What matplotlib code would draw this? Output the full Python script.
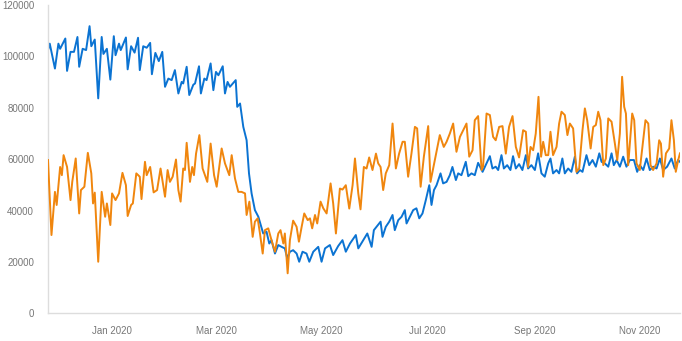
import numpy as np
import matplotlib
matplotlib.use("Agg")
import matplotlib.pyplot as plt

start_date = np.datetime64("2019-11-25T00")

blue_days = [0, 1, 4, 6, 7, 10, 11, 13, 15, 17, 18, 20, 22, 24, 25, 27, 29, 31, 32, 34, 36, 38, 39, 41, 42, 45, 46, 48, 50, 52, 53, 55, 57, 59, 60, 62, 64,
             66, 67.6, 69.5, 71.4, 73.3, 75.3, 77.2, 78.1, 80.1, 81.6, 83.9, 84.9, 87.2, 88.3, 90.3, 91.6, 93.9, 95.5, 97, 98.4, 100.9, 102.2, 103.7, 105.1, 108.4, 109.3, 110.9, 112.8, 114.7, 116.1, 117.6, 119.5, 121.5,
             124.3, 126.2, 127.8, 129.1, 131.1, 133, 134.9, 136.8, 138.2, 139.7, 141.6, 143.6, 145.1, 147, 149.3, 150.9, 153.2, 156.1, 158, 160, 162.8, 164.7, 167.6, 170.1, 172, 174.4, 177.8, 179.2, 182.1, 184.4,
             186.9, 188.2, 189.7, 192.1, 193.2, 195.1, 197.1, 199, 200.3, 202.3, 204.2, 206.1, 207.1, 209, 210.9, 212.8, 214.4, 216.3, 218.2, 220.2, 221.5, 222.9, 224.4, 226.7, 228.2, 230.2, 232.1, 233.6, 235.6, 236.9, 238.8, 241.3, 242.7, 244.6, 246.5, 248.4,
             251, 253.3, 255.2, 256.7, 258.6, 260, 261.9, 263.3, 265.2, 267.1, 268.6, 270.2, 272.1, 274, 276, 277.3, 279.2, 281.2, 283.1, 285, 286.9, 288.9, 290.2, 291.7, 293.7, 295.2, 297.1, 298.5, 300.4, 302.3, 304.3, 305.6,
             307.2, 308.7, 311, 312.6, 314.5, 316.4, 318.4, 319.7, 321.6, 323.6, 325.5, 326.8, 328.4, 330.3, 332.2, 334.1, 336.1, 338.4, 340.3, 341.8, 343.8, 345.7, 347.6, 349.5, 351.5, 353.4, 355.3, 357.6, 360.1, 362, 363.9, 365]

blue_values = [102500, 105000, 95300, 105000, 103000, 107000, 94400, 101800, 101800, 107600, 96000, 103000, 102500, 111800, 104000, 106600, 83700, 107600, 101000, 103000, 91000, 107900, 100500, 105000, 102500, 107400, 95000, 104000, 101500, 107300, 94700, 104000, 103400, 105300, 93100, 101400, 98200,
               101800, 88200, 91400, 90800, 94700, 85600, 90100, 89500, 96000, 85000, 89000, 89500, 96200, 85600, 91400, 90800, 97300, 86900, 94000, 92700, 96200, 85600, 90100, 88200, 90800, 80400, 81700, 72600, 67400, 54500, 46700, 40200, 37600,
               31100, 31800, 27200, 28500, 23300, 26600, 25900, 25300, 21400, 24000, 24600, 23300, 20100, 24000, 23300, 20100, 24000, 25900, 20100, 25300, 26600, 22700, 26200, 28500, 24000, 27200, 30500, 25300, 28500, 31100,
               25900, 32400, 33700, 35700, 29800, 33700, 35700, 38300, 32400, 36300, 37600, 40200, 35000, 37600, 40200, 40900, 37000, 38900, 44100, 49900, 42200, 48000, 49900, 54500, 50600, 51200, 53800, 57000, 51900, 54500, 53800, 59000, 53400, 54500, 53800, 58600,
               55100, 58400, 61200, 56400, 57100, 55800, 61600, 56400, 57700, 55800, 61200, 56400, 58100, 55800, 61600, 56400, 57700, 55800, 62300, 54500, 53200, 58400, 60300, 54500, 55800, 54500, 60300, 54500, 56400, 55100, 61000, 54500,
               55800, 55100, 61600, 57700, 59700, 57100, 62300, 59000, 58400, 57100, 62300, 57700, 59700, 57100, 61000, 57100, 59700, 59700, 55100, 57700, 55800, 60300, 55800, 57100, 56400, 60300, 55800, 57100, 60300, 56400, 59700, 59000]

orange_days = [0, 2, 4, 5, 7, 8, 9, 11, 13, 14, 16, 18, 19, 21, 23, 25, 26, 27, 29, 31, 33, 34, 36, 37, 39, 41, 43, 45, 46, 48, 49, 51, 53, 54, 56, 57, 59, 61, 63, 65,
               67.6, 69.1, 70.4, 72, 73.9, 75.3, 76.6, 78.1, 79.1, 80.1, 82, 83.3, 84.3, 85.5, 87.4, 89.3, 92, 93.9, 95.9, 97.4, 100.3, 102.2, 104.7, 106.1, 108, 109.9, 111.8, 113.8, 114.7, 116.3, 118.2, 119.5, 121.1, 122.4,
               124, 125.3, 127.2, 129.1, 131.1, 133, 134.3, 135.9, 136.8, 138.4, 139.7, 141.6, 143.6, 144.9, 146.5, 148, 150, 151.3, 152.6, 154.2, 155.5, 157.4, 159, 160.9, 163.2, 164.7, 166.3, 168.6, 170.1, 172, 174, 175.9, 177.3, 179.2, 180.5, 182.4, 184, 185.5,
               187.4, 189.4, 190.7, 192.1, 193.6, 195.1, 197.1, 199, 200.9, 202.8, 204.8, 206.1, 208, 209.9, 211.9, 213.2, 215.2, 217.1, 219.6, 220.9, 223.4, 226.3, 228.6, 230.2, 232.1, 234, 235.9, 237.9, 239.8, 241.7, 243.3, 245.2, 246.5, 248.4,
               250.4, 251.3, 253.3, 255.2, 257.1, 258.6, 260.6, 262.5, 264.4, 266.3, 268.3, 270.2, 272.1, 274.4, 276, 277.3, 278.7, 280.2, 281.7, 283.3, 284.8, 286, 287.5, 288.9, 290.2, 291.7, 293.7, 295.2, 296.6, 298.5, 300, 301.4, 303.3, 305.2, 306.8,
               308.7, 310.1, 311.4, 313.4, 314.9, 316.4, 317.8, 319.1, 320.7, 322.2, 323.6, 325.5, 327.4, 328.8, 330.3, 331.6, 332.8, 333.8, 335.1, 336.5, 337.4, 338.6, 339.9, 341.8, 343.8, 345.1, 346.7, 348, 349.5, 351.5, 353, 354, 355.3, 356.9, 358.8, 360.1, 361.5, 362.6, 364, 365]

orange_values = [59700, 30500, 47300, 42200, 57000, 53800, 61600, 57000, 44100, 51200, 60300, 38900, 48000, 49300, 62500, 54500, 42800, 47000, 20100, 47300, 37600, 42800, 34400, 46700, 44100, 46700, 54700, 49900, 37900, 42200, 42800, 54500, 53200, 44500, 59000, 53800, 57000, 47100, 48000, 56400,
                 45400, 55800, 51200, 53200, 59900, 48000, 43500, 56400, 55800, 66400, 51200, 57000, 53800, 62200, 69400, 56400, 51200, 66100, 53800, 49300, 64200, 58400, 53800, 61600, 52500, 47300, 47300, 46700, 38300, 43500, 29800, 35700, 37000, 31100,
                 23300, 32400, 33100, 28500, 24000, 31100, 32400, 27200, 31100, 15600, 28500, 36100, 33700, 27900, 33700, 38900, 36300, 37000, 33100, 38300, 35000, 43500, 40900, 38900, 50600, 42800, 31100, 48600, 48200, 49900, 40800, 49900, 60300, 46700, 40500, 57000, 56400, 60700,
                 55800, 62200, 58400, 57000, 48000, 54500, 57700, 73900, 56400, 62200, 66800, 66800, 53200, 62200, 72600, 72000, 49300, 61000, 72900, 51200, 59700, 69400, 64800, 66800, 70000, 73900, 62900, 68700, 71300, 73900, 61000, 63500, 75200, 76800,
                 55800, 57100, 77800, 77200, 68700, 67400, 72600, 72900, 62200, 72600, 76800, 64800, 60700, 71300, 70700, 57000, 64800, 63500, 70000, 84300, 61000, 66800, 61600, 61600, 70700, 61600, 64800, 73900, 78500, 77200, 69400, 73900, 72000, 55100, 56400,
                 71300, 79800, 75200, 64200, 72600, 73300, 78500, 75200, 57700, 60300, 75900, 74600, 66100, 59700, 70000, 92100, 80400, 77800, 57700, 70000, 77800, 75200, 58400, 55800, 67400, 75200, 73900, 57700, 55800, 58400, 67400, 66100, 53200, 62300, 64200, 75200, 67400, 55100, 59700, 62300]

tick_dates = ["2020-01-01", "2020-03-01", "2020-05-01", "2020-07-01", "2020-09-01", "2020-11-01"]
tick_labels = ["Jan 2020", "Mar 2020", "May 2020", "Jul 2020", "Sep 2020", "Nov 2020"]
y_ticks = [0, 20000, 40000, 60000, 80000, 100000, 120000]

assert len(blue_days) == len(blue_values)
assert len(orange_days) == len(orange_values)


def to_dates(days):
    hours = np.round(np.asarray(days, dtype=float) * 24).astype(int)
    return start_date + hours.astype("timedelta64[h]")


plt.rcParams["font.family"] = ["Liberation Sans", "DejaVu Sans"]
fig = plt.figure(figsize=(6.82, 3.41), dpi=100)
ax = fig.add_axes([0.0704, 0.081, 0.9266, 0.904])

ax.plot(to_dates(blue_days), blue_values, color="#0b73d2", lw=1.4,
        solid_joinstyle="round", zorder=2)
ax.plot(to_dates(orange_days), orange_values, color="#f0860e", lw=1.4,
        solid_joinstyle="round", zorder=3)

ax.set_xlim(to_dates([0])[0], to_dates([365])[0])
ax.set_ylim(0, 120000)
ax.set_yticks(y_ticks)
ax.set_yticklabels([str(v) for v in y_ticks])
ax.set_xticks(np.array(tick_dates, dtype="datetime64[h]"))
ax.set_xticklabels(tick_labels)
ax.tick_params(axis="both", length=0, labelsize=7, labelcolor="#777777")
ax.tick_params(axis="y", pad=10)
ax.tick_params(axis="x", pad=9)

for s in ["top", "right"]:
    ax.spines[s].set_visible(False)
for s in ["left", "bottom"]:
    ax.spines[s].set_color("#dddddd")
    ax.spines[s].set_linewidth(1.0)

fig.savefig("out.png", dpi=100)
